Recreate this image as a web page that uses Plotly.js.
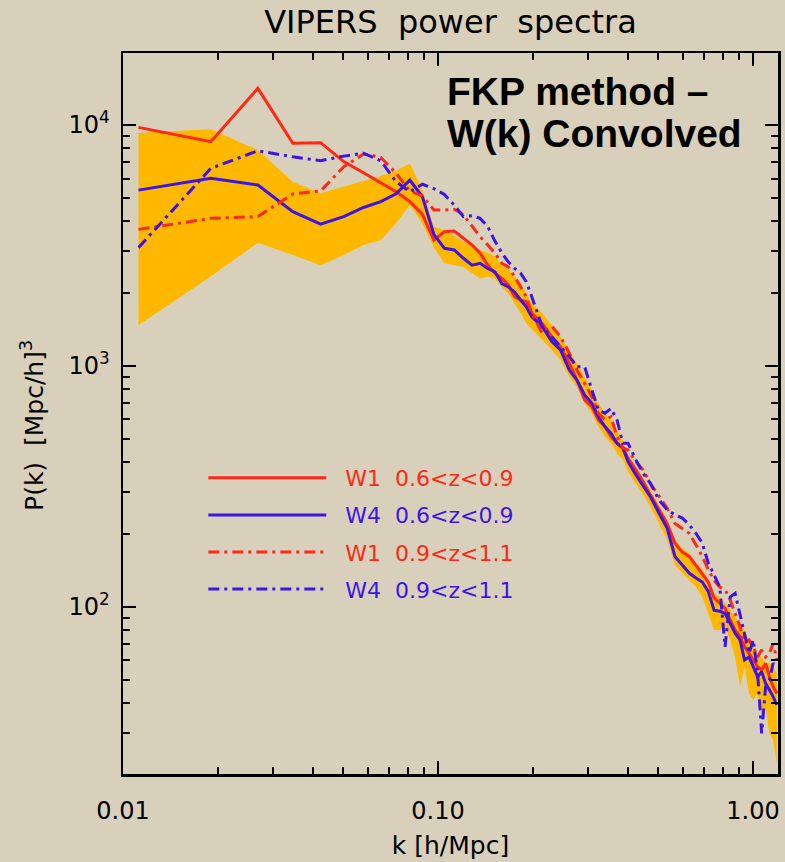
<!DOCTYPE html>
<html>
<head>
<meta charset="utf-8">
<script src="https://cdn.plot.ly/plotly-3.0.1.min.js"></script>
<style>
html,body{margin:0;padding:0;background:#d9d0bb;}
#chart{width:785px;height:862px;}
</style>
</head>
<body>
<div id="chart"></div>
<script>
// wavenumber k [h/Mpc]
const k = [0.0112,0.0190,0.0268,0.0346,0.0424,0.0502,0.0580,0.0658,0.0736,0.0814,0.0892,0.0970,0.1048,0.1126,0.1204,0.1282,0.1360,0.1438,0.1516,0.1594,0.1672,0.1750,0.1828,0.1906,0.1984,
0.214,0.230,0.245,0.261,0.276,0.292,0.308,0.323,0.339,0.354,0.370,0.386,
0.401,0.425,0.448,0.472,0.503,0.534,0.565,0.596,0.628,0.659,0.690,0.721,0.752,0.784,0.815,0.846,0.877,0.909,0.940,0.971,1.002,1.034,1.065,1.096,1.127,1.158,1.190];

// W1 0.6<z<0.9
const pW1_lowz = [9780,8530,14200,8400,8450,7050,6340,5770,5290,4810,4260,3330,3610,3630,3390,3180,2940,2620,2430,2310,2170,1940,1880,1850,1660,
1500,1320,1200,1030,875,723,678,597,560,509,478,457,
414,370,331,292,253,222,184,169,162,149,138,127,109,104,98.8,88.3,80.3,75.4,68.4,64.2,60.3,56.5,54.8,58.4,51.4,46.7,43.8];

// W4 0.6<z<0.9
const pW4_lowz = [5370,6010,5640,4370,3880,4170,4550,4810,5180,5910,5040,3520,3080,3030,2800,2620,2670,2540,2460,2200,2130,2030,1880,1760,1600,
1460,1260,1165,962,875,758,700,616,560,526,478,457,
401,353,316,287,245,212,162,149,138,132,127,116,97,96,94,85.6,77.8,73,60.3,62,56.5,51.4,53.9,48.2,45.3,42.5,39.2];

// W1 0.9<z<1.1
const pW1_highz = [3690,4100,4170,5180,5330,6710,7580,7350,6300,5330,5080,4440,4440,4470,4240,3790,3440,3180,2940,2670,2580,2350,2130,1940,1660,
1370,1460,1320,1130,962,847,746,637,597,616,509,457,
448,401,370,326,287,257,222,212,202,181,162,143,129,121,118,107,94,82.8,70.6,73,68.4,62,66.4,62,64.2,70.6,60.3];

// W4 0.9<z<1.1
const pW4_highz = [3100,6610,7820,7380,7110,7430,7640,7110,5820,5290,5680,5450,5150,4650,4170,4200,4100,3790,3300,2950,2700,2540,2430,2240,1940,
1460,1320,1200,1095,993,993,794,657,637,667,597,478,
478,407,359,326,278,253,241,234,219,202,184,152,136,121,68.4,110,114,94,77.8,64.2,73,53.1,29.9,46.7,49.7,58.4,56.5];

// shaded band (upper / lower edge)
const bandUpper = [9290,9600,7870,5820,5210,5550,5870,6140,6460,6930,5370,3790,3660,3480,3280,3130,3030,2950,2850,2620,2510,2350,2200,2000,1820,
1660,1460,1320,1165,1030,900,794,700,637,597,543,493,
428,382,342,306,265,230,190,175,167,152,143,129,114,110,104,97,91.2,85.6,80.3,73,68.4,64.2,62,58.4,58.4,56.5,53.1];
const bandLower = [1480,2350,3250,2890,2620,2890,3180,3330,3910,4660,3910,3100,2670,2620,2580,2430,2310,2350,2300,2130,2000,1820,1660,1500,1410,
1280,1165,1060,900,820,700,637,560,509,478,435,408,
364,326,292,261,222,190,149,138,129,121,110,94,80.3,80,82.8,73,62,46.7,56.5,43.8,41.1,43.8,35.1,38.5,29.9,28,22.4];

const xTickVals = [0.01,0.1,1];
const xTickText = ['0.01','0.10','1.00'];
const yTickVals = [100,1000,10000];
const yTickText = ['10<sup>2</sup>','10<sup>3</sup>','10<sup>4</sup>'];
const xMinor = [0.02,0.03,0.04,0.05,0.06,0.07,0.08,0.09,0.2,0.3,0.4,0.5,0.6,0.7,0.8,0.9];
const yMinor = [30,40,50,60,70,80,90,200,300,400,500,600,700,800,900,2000,3000,4000,5000,6000,7000,8000,9000];

const RED = '#ff2814';
const BLUE = '#3c14e6';
const DASHDOT = '11px,5px,3px,5px';

const names = [
  '<span style="color:'+RED+'">&nbsp;&nbsp;W1&nbsp;&nbsp;0.6&lt;z&lt;0.9</span>',
  '<span style="color:'+BLUE+'">&nbsp;&nbsp;W4&nbsp;&nbsp;0.6&lt;z&lt;0.9</span>',
  '<span style="color:'+RED+'">&nbsp;&nbsp;W1&nbsp;&nbsp;0.9&lt;z&lt;1.1</span>',
  '<span style="color:'+BLUE+'">&nbsp;&nbsp;W4&nbsp;&nbsp;0.9&lt;z&lt;1.1</span>'
];

const traces = [
  {x: k.concat(k.slice().reverse()), y: bandUpper.concat(bandLower.slice().reverse()),
   mode:'lines', fill:'toself', fillcolor:'#ffb800', line:{width:0, color:'#ffb800'},
   showlegend:false, hoverinfo:'skip'},
  {x:k, y:pW1_lowz, mode:'lines', name:names[0], legendgroup:'a', line:{color:RED, width:3}},
  {x:k, y:pW4_lowz, mode:'lines', name:names[1], legendgroup:'b', line:{color:BLUE, width:3}},
  {x:k, y:pW1_highz, mode:'lines', name:names[2], legendgroup:'c', line:{color:RED, width:3, dash:DASHDOT}},
  {x:k, y:pW4_highz, mode:'lines', name:names[3], legendgroup:'d', line:{color:BLUE, width:3, dash:DASHDOT}}
];

const axisCommon = {
  showline:true, linecolor:'#000', linewidth:2.5, mirror:'allticks',
  ticks:'inside', ticklen:13, tickwidth:2, tickcolor:'#000',
  showgrid:false, zeroline:false, tickmode:'array',
  tickfont:{family:'DejaVu Sans', size:24, color:'#000'}
};

const layout = {
  width:785, height:862,
  paper_bgcolor:'#d9d0bb', plot_bgcolor:'rgba(0,0,0,0)',
  margin:{l:123, r:7, t:53, b:88, pad:0},
  title:{text:'VIPERS&nbsp;&nbsp;power&nbsp;&nbsp;spectra', font:{family:'DejaVu Sans', size:32, color:'#000'},
         x:0.5, xref:'paper', xanchor:'center', y:0.975, yref:'container', yanchor:'middle'},
  xaxis: Object.assign({}, axisCommon, {
    type:'log', range:[Math.log10(0.01), Math.log10(1.2)],
    tickvals:xTickVals, ticktext:xTickText, ticklabelstandoff:14,
    minor:{tickmode:'array', tickvals:xMinor, ticks:'inside', ticklen:7, tickwidth:2, tickcolor:'#000', showgrid:false},
    title:{text:'k [h/Mpc]', font:{family:'DejaVu Sans', size:25, color:'#000'}, standoff:12}
  }),
  yaxis: Object.assign({}, axisCommon, {
    type:'log', range:[1.307, 4.299],
    tickvals:yTickVals, ticktext:yTickText, ticklabelstandoff:6,
    minor:{tickmode:'array', tickvals:yMinor, ticks:'inside', ticklen:7, tickwidth:2, tickcolor:'#000', showgrid:false},
    title:{text:'P(k)&nbsp;&nbsp;[Mpc/h]<sup>3</sup>&nbsp;&nbsp;&nbsp;', font:{family:'DejaVu Sans', size:25, color:'#000'}, standoff:18}
  }),
  legend:{x:0.1226, xanchor:'left', y:0.4397, yanchor:'top', bgcolor:'rgba(0,0,0,0)', borderwidth:0,
          font:{family:'DejaVu Sans', size:22, color:'#000'}, itemwidth:118, traceorder:'grouped', tracegroupgap:5.5},
  showlegend:true,
  annotations:[
    {text:'<b>FKP method –</b>', xref:'paper', yref:'paper', x:(445-123)/655, y:0.9466, xanchor:'left', yanchor:'middle',
     showarrow:false, font:{family:'Liberation Sans', size:39, color:'#000'}},
    {text:'<b>W(k) Convolved</b>', xref:'paper', yref:'paper', x:(445-123)/655, y:0.8883, xanchor:'left', yanchor:'middle',
     showarrow:false, font:{family:'Liberation Sans', size:39, color:'#000'}}
  ]
};

Plotly.newPlot('chart', traces, layout, {displayModeBar:false, staticPlot:true});
</script>
</body>
</html>
